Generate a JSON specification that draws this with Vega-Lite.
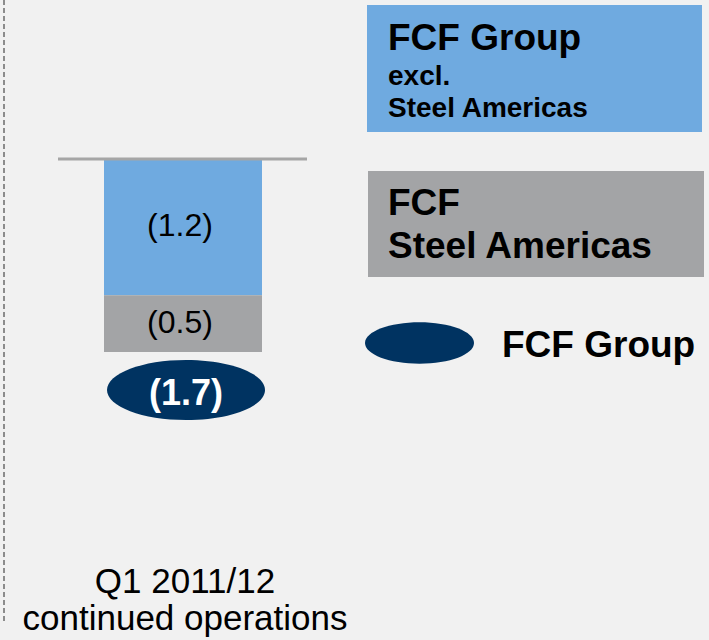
{
  "$schema": "https://vega.github.io/schema/vega-lite/v6.json",
  "width": 709,
  "height": 640,
  "padding": 0,
  "autosize": {"type": "none"},
  "background": "#f1f1f1",
  "config": {"view": {"stroke": null}, "font": "Liberation Sans"},
  "datasets": {
    "bars": [
      {"segment": "FCF Group excl. Steel Americas", "start": 0, "end": -1.2, "label": "(1.2)"},
      {"segment": "FCF Steel Americas", "start": -1.2, "end": -1.7, "label": "(0.5)"}
    ],
    "total": [{"segment": "FCF Group", "value": -1.7, "label": "(1.7)"}],
    "legendBoxes": [
      {"segment": "FCF Group excl. Steel Americas", "x0": 367, "x1": 702, "y0": 1.3568, "y1": 0.2379},
      {"segment": "FCF Steel Americas", "x0": 368, "x1": 704, "y0": -0.1057, "y1": -1.0396}
    ],
    "legendBig": [
      {"text": "FCF Group", "x": 388, "y": 0.9604},
      {"text": "FCF", "x": 388, "y": -0.4934},
      {"text": "Steel Americas", "x": 388, "y": -0.8722},
      {"text": "FCF Group", "x": 502, "y": -1.7445}
    ],
    "legendSmall": [
      {"text": "excl.", "x": 388, "y": 0.652},
      {"text": "Steel Americas", "x": 388, "y": 0.37}
    ],
    "legendMarker": [{"segment": "FCF Group", "x": 419.5, "y": -1.6211}],
    "category": [{"label": ["Q1 2011/12", "continued operations"], "x": 185, "y": -3.8238}]
  },
  "layer": [
    {
      "data": {"values": [{}]},
      "mark": {"type": "rule", "color": "#8c8c8c", "strokeWidth": 2, "strokeDash": [5, 3]},
      "encoding": {
        "x": {"datum": 4, "type": "quantitative", "scale": {"domain": [0, 709], "nice": false, "zero": false}, "axis": null},
        "y": {"datum": 1.4009, "type": "quantitative", "scale": {"domain": [-4.2379, 1.4009], "nice": false, "zero": false}, "axis": null},
        "y2": {"datum": -4.0793}
      }
    },
    {
      "data": {"name": "legendBoxes"},
      "mark": {"type": "rect"},
      "encoding": {
        "x": {"field": "x0", "type": "quantitative"},
        "x2": {"field": "x1"},
        "y": {"field": "y0", "type": "quantitative"},
        "y2": {"field": "y1"},
        "color": {"field": "segment", "type": "nominal", "legend": null,
          "scale": {"domain": ["FCF Group excl. Steel Americas", "FCF Steel Americas", "FCF Group"], "range": ["#6faae0", "#a3a4a6", "#003361"]}}
      }
    },
    {
      "data": {"name": "bars"},
      "mark": {"type": "rect"},
      "encoding": {
        "x": {"datum": 104, "type": "quantitative"},
        "x2": {"datum": 262},
        "y": {"field": "start", "type": "quantitative"},
        "y2": {"field": "end"},
        "color": {"field": "segment", "type": "nominal", "legend": null}
      }
    },
    {
      "data": {"values": [{}]},
      "mark": {"type": "rule", "color": "#a6a6a6", "strokeWidth": 3},
      "encoding": {
        "x": {"datum": 58, "type": "quantitative"},
        "x2": {"datum": 307},
        "y": {"datum": 0, "type": "quantitative"}
      }
    },
    {
      "data": {"name": "bars"},
      "transform": [{"calculate": "(datum.start + datum.end) / 2", "as": "mid"}],
      "mark": {"type": "text", "fontSize": 32, "color": "#000000", "align": "center", "baseline": "middle", "dy": -1},
      "encoding": {
        "x": {"datum": 180, "type": "quantitative"},
        "y": {"field": "mid", "type": "quantitative"},
        "text": {"field": "label"}
      }
    },
    {
      "data": {"name": "total"},
      "mark": {"type": "point", "filled": true, "opacity": 1, "shape": "M-1,0A1,0.38,0,1,0,1,0A1,0.38,0,1,0,-1,0Z", "size": 24964, "strokeWidth": 0},
      "encoding": {
        "x": {"datum": 186, "type": "quantitative"},
        "y": {"field": "value", "type": "quantitative"},
        "yOffset": {"value": 38},
        "color": {"field": "segment", "type": "nominal", "legend": null}
      }
    },
    {
      "data": {"name": "total"},
      "mark": {"type": "text", "fontSize": 36, "fontWeight": "bold", "color": "#ffffff", "align": "center", "baseline": "alphabetic", "dy": 53},
      "encoding": {
        "x": {"datum": 186, "type": "quantitative"},
        "y": {"field": "value", "type": "quantitative"},
        "text": {"field": "label"}
      }
    },
    {
      "data": {"name": "legendMarker"},
      "mark": {"type": "point", "filled": true, "opacity": 1, "shape": "M-1,0A1,0.38,0,1,0,1,0A1,0.38,0,1,0,-1,0Z", "size": 11881, "strokeWidth": 0},
      "encoding": {
        "x": {"field": "x", "type": "quantitative"},
        "y": {"field": "y", "type": "quantitative"},
        "color": {"field": "segment", "type": "nominal", "legend": null}
      }
    },
    {
      "data": {"name": "legendBig"},
      "mark": {"type": "text", "fontSize": 37, "fontWeight": "bold", "color": "#000000", "align": "left", "baseline": "alphabetic"},
      "encoding": {
        "x": {"field": "x", "type": "quantitative"},
        "y": {"field": "y", "type": "quantitative"},
        "text": {"field": "text"}
      }
    },
    {
      "data": {"name": "legendSmall"},
      "mark": {"type": "text", "fontSize": 28, "fontWeight": "bold", "color": "#000000", "align": "left", "baseline": "alphabetic"},
      "encoding": {
        "x": {"field": "x", "type": "quantitative"},
        "y": {"field": "y", "type": "quantitative"},
        "text": {"field": "text"}
      }
    },
    {
      "data": {"name": "category"},
      "mark": {"type": "text", "fontSize": 35, "color": "#000000", "align": "center", "baseline": "alphabetic", "lineHeight": 37.5},
      "encoding": {
        "x": {"field": "x", "type": "quantitative"},
        "y": {"field": "y", "type": "quantitative"},
        "text": {"field": "label"}
      }
    }
  ]
}
